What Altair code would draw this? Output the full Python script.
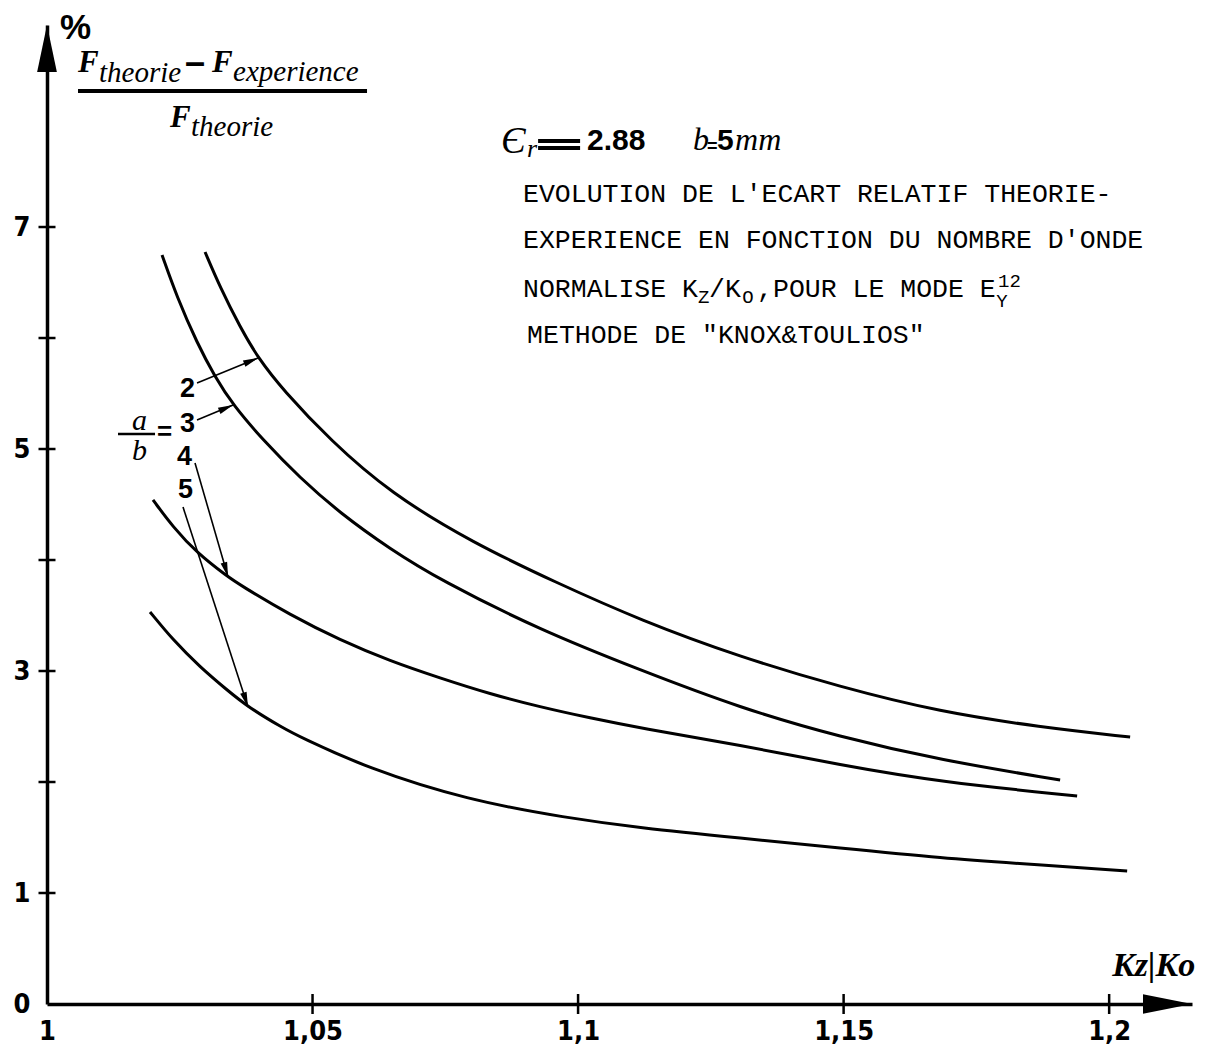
import altair as alt
import pandas as pd

# ---------------- data ----------------
series_labels = ["2", "3", "4", "5"]

kz_ab2 = [1.02976, 1.03258, 1.03635, 1.03974, 1.04444, 1.05330, 1.06460, 1.08023,
          1.09605, 1.11168, 1.13051, 1.14934, 1.16817, 1.18701, 1.20395]
err_ab2 = [6.775, 6.459, 6.099, 5.820, 5.532, 5.081, 4.604, 4.153,
           3.793, 3.459, 3.126, 2.856, 2.631, 2.495, 2.405]

kz_ab3 = [1.02166, 1.02448, 1.02825, 1.03164, 1.03503, 1.04068, 1.04765, 1.05518,
          1.06460, 1.07401, 1.09284, 1.11168, 1.13051, 1.14934, 1.16817, 1.19077]
err_ab3 = [6.748, 6.369, 5.955, 5.649, 5.396, 5.081, 4.739, 4.423,
           4.099, 3.820, 3.369, 3.009, 2.667, 2.405, 2.198, 2.018]

kz_ab4 = [1.01996, 1.02373, 1.02825, 1.03409, 1.03635, 1.04576, 1.05518, 1.06460,
          1.07401, 1.08343, 1.09284, 1.10226, 1.11168, 1.13051, 1.14934, 1.16817, 1.19397]
err_ab4 = [4.541, 4.297, 4.063, 3.847, 3.775, 3.505, 3.279, 3.090,
           2.937, 2.793, 2.676, 2.577, 2.486, 2.333, 2.153, 2.000, 1.874]

kz_ab5 = [1.01940, 1.02373, 1.02881, 1.03390, 1.03785, 1.04444, 1.04765, 1.06026,
          1.07910, 1.09793, 1.11168, 1.13051, 1.14934, 1.16817, 1.18701, 1.20339]
err_ab5 = [3.532, 3.279, 3.036, 2.829, 2.676, 2.486, 2.405, 2.126,
           1.838, 1.676, 1.586, 1.495, 1.405, 1.315, 1.252, 1.198]

x_tick_values = [1.05, 1.10, 1.15, 1.20]
x_label_values = [1.0, 1.05, 1.1, 1.15, 1.2]
y_tick_values = [1, 2, 3, 4, 5, 6, 7]
y_label_values = [0, 1, 3, 5, 7]
x_domain = [1.0, 1.2156]
y_domain = [0.0, 8.82]

# label arrows: start (near the label) -> end (on the curve)
arrow_x1 = [1.02825, 1.02825, 1.02787, 1.02561]
arrow_y1 = [5.595, 5.261, 4.874, 4.477]
arrow_x2 = [1.03974, 1.03503, 1.03409, 1.03785]
arrow_y2 = [5.820, 5.396, 3.847, 2.676]
arrow_angle = [67.7, 67.4, 163.9, 162.0]

# ---------------- fonts ----------------
SANS = "Liberation Sans Narrow, DejaVu Sans Condensed, Liberation Sans, sans-serif"
SANS_W = "Liberation Sans, DejaVu Sans, sans-serif"
SERIF = "Liberation Serif, DejaVu Serif, serif"
MONO = "Liberation Mono, DejaVu Sans Mono, monospace"

# text annotations: (text, x, y, style)
texts = [
    ("%", 1.00245, 8.690, "pct"),
    ("F", 1.00584, 8.396, "F"),
    ("theorie", 1.00980, 8.306, "sub"),
    ("\u2013", 1.02600, 8.380, "dash"),
    ("F", 1.03107, 8.396, "F"),
    ("experience", 1.03503, 8.315, "sub"),
    ("F", 1.02316, 7.901, "F"),
    ("theorie", 1.02712, 7.820, "sub"),
    ("\u0404", 1.08550, 7.667, "eps"),
    ("r", 1.09040, 7.631, "r"),
    ("2.88", 1.10169, 7.694, "num"),
    ("b", 1.12166, 7.694, "it"),
    ("=", 1.12429, 7.676, "eqs"),
    ("5", 1.12618, 7.694, "num"),
    ("mm", 1.12957, 7.694, "it"),
    ("EVOLUTION DE L'ECART RELATIF THEORIE-", 1.08964, 7.225, "tt"),
    ("EXPERIENCE EN FONCTION DU NOMBRE D'ONDE", 1.08964, 6.811, "tt"),
    ("NORMALISE K", 1.08964, 6.369, "tt"),
    ("Z", 1.12260, 6.315, "tts"),
    ("/K", 1.12467, 6.369, "tt"),
    ("O", 1.13089, 6.315, "tts"),
    (",POUR LE MODE E", 1.13371, 6.369, "tt"),
    ("Y", 1.17872, 6.279, "tts"),
    ("12", 1.17909, 6.459, "tts"),
    ("METHODE DE \"KNOX&TOULIOS\"", 1.09040, 5.955, "tt"),
    ("Kz|Ko", 1.20056, 0.252, "klab"),
    ("2", 1.02505, 5.468, "curve"),
    ("3", 1.02505, 5.153, "curve"),
    ("4", 1.02448, 4.856, "curve"),
    ("5", 1.02467, 4.559, "curve"),
    ("a", 1.01601, 5.171, "ab"),
    ("b", 1.01601, 4.901, "ab"),
    ("=", 1.02072, 5.081, "eq"),
]

styles = {
    "pct": dict(font=SANS_W, fontSize=35, fontWeight="bold"),
    "F": dict(font=SERIF, fontSize=31, fontWeight="bold", fontStyle="italic"),
    "sub": dict(font=SERIF, fontSize=29, fontStyle="italic"),
    "dash": dict(font=SANS_W, fontSize=36, fontWeight="bold"),
    "eps": dict(font=SERIF, fontSize=37, fontStyle="italic"),
    "r": dict(font=SERIF, fontSize=26, fontStyle="italic"),
    "num": dict(font=SANS_W, fontSize=30, fontWeight="bold"),
    "it": dict(font=SERIF, fontSize=32, fontStyle="italic"),
    "eqs": dict(font=SANS_W, fontSize=18, fontWeight="bold"),
    "tt": dict(font=MONO, fontSize=26.5),
    "tts": dict(font=MONO, fontSize=19),
    "klab": dict(font=SERIF, fontSize=34, fontWeight="bold", fontStyle="italic"),
    "curve": dict(font=SANS_W, fontSize=27, fontWeight="bold"),
    "ab": dict(font=SERIF, fontSize=30, fontStyle="italic"),
    "eq": dict(font=SANS_W, fontSize=26, fontWeight="bold"),
}

# horizontal bars (fraction bars, thick "=")
bars = [
    (1.00584, 1.06026, 8.225, 4),
    (1.01337, 1.02034, 5.135, 2.5),
    (1.09247, 1.10038, 7.775, 4),
    (1.09247, 1.10038, 7.712, 4),
]

# ---------------- build ----------------
rows = []
for lab, xs_, ys_ in zip(series_labels, [kz_ab2, kz_ab3, kz_ab4, kz_ab5],
                         [err_ab2, err_ab3, err_ab4, err_ab5]):
    for a, b in zip(xs_, ys_):
        rows.append({"ab": lab, "kz": a, "err": b})
df = pd.DataFrame(rows)

xs = alt.Scale(domain=x_domain, nice=False, zero=False)
ys = alt.Scale(domain=y_domain, nice=False, zero=False)

axis_common = dict(grid=False, ticks=False, title=None, domainColor="black",
                   domainWidth=3.5, labelFont=SANS, labelFontSize=27,
                   labelFontWeight="bold", labelColor="black",
                   labelOverlap=False, labelFlush=False, labelBound=False)
x_axis = alt.Axis(values=x_label_values,
                  labelExpr="replace(toString(datum.value), '.', ',')",
                  labelPadding=14, **axis_common)
y_axis = alt.Axis(values=y_label_values, labelPadding=17, **axis_common)


def X(field):
    return alt.X(field, type="quantitative", scale=xs, axis=x_axis)


def Y(field):
    return alt.Y(field, type="quantitative", scale=ys, axis=y_axis)


curves = alt.Chart(df).mark_line(color="black", strokeWidth=3, interpolate="basis").encode(
    x=X("kz"), y=Y("err"), detail="ab:N",
)

xt = alt.Chart(pd.DataFrame({"kz": x_tick_values, "err": [0.0] * len(x_tick_values)})).mark_tick(
    orient="vertical", size=20, thickness=2.5, color="black", opacity=1).encode(x=X("kz"), y=Y("err"))
yt = alt.Chart(pd.DataFrame({"kz": [1.0] * len(y_tick_values), "err": y_tick_values})).mark_tick(
    orient="horizontal", size=17, thickness=2.5, color="black", opacity=1).encode(x=X("kz"), y=Y("err"))

y_arrow = alt.Chart(pd.DataFrame({"kz": [x_domain[0]], "err": [y_domain[1]]})).mark_point(
    shape="M0,0L0.42,2L-0.42,2Z", size=2209, filled=True, color="black", opacity=1, strokeWidth=0
).encode(x=X("kz"), y=Y("err"))
x_arrow = alt.Chart(pd.DataFrame({"kz": [x_domain[1]], "err": [y_domain[0]]})).mark_point(
    shape="M0,0L-2,-0.4L-2,0.4Z", size=2401, filled=True, color="black", opacity=1, strokeWidth=0
).encode(x=X("kz"), y=Y("err"))

adf = pd.DataFrame({"x1": arrow_x1, "y1": arrow_y1, "x2": arrow_x2, "y2": arrow_y2, "ang": arrow_angle})
arrow_lines = alt.Chart(adf).mark_rule(color="black", strokeWidth=1.6).encode(
    x=X("x1"), y=Y("y1"), x2="x2:Q", y2="y2:Q")
arrow_heads = alt.Chart(adf).mark_point(
    shape="M0,0L0.45,2L-0.45,2Z", size=225, filled=True, color="black", opacity=1, strokeWidth=0
).encode(x=X("x2"), y=Y("y2"), angle=alt.Angle("ang:Q", scale=None))

bdf = pd.DataFrame(bars, columns=["x1", "x2", "y", "w"])
bar_layers = [
    alt.Chart(bdf[bdf.w == w]).mark_rule(color="black", strokeWidth=w).encode(
        x=X("x1"), x2="x2:Q", y=Y("y"))
    for w in sorted(set(bdf.w))
]

tdf = pd.DataFrame(texts, columns=["t", "x", "y", "s"])
text_layers = []
for key, st in styles.items():
    sub = tdf[tdf.s == key]
    if len(sub) == 0:
        continue
    text_layers.append(
        alt.Chart(sub).mark_text(align="left", baseline="alphabetic", color="black", **st).encode(
            x=X("x"), y=Y("y"), text="t:N")
    )

chart = alt.layer(curves, xt, yt, y_arrow, x_arrow, arrow_lines, arrow_heads,
                  *bar_layers, *text_layers).properties(
    width=1145, height=979,
    padding={"left": 47, "top": 25, "right": 15, "bottom": 46},
    autosize=alt.AutoSizeParams(type="none"),
    background="white",
).configure_view(stroke=None)

chart.save("out.html", embed_options={"renderer": "svg", "actions": False})
